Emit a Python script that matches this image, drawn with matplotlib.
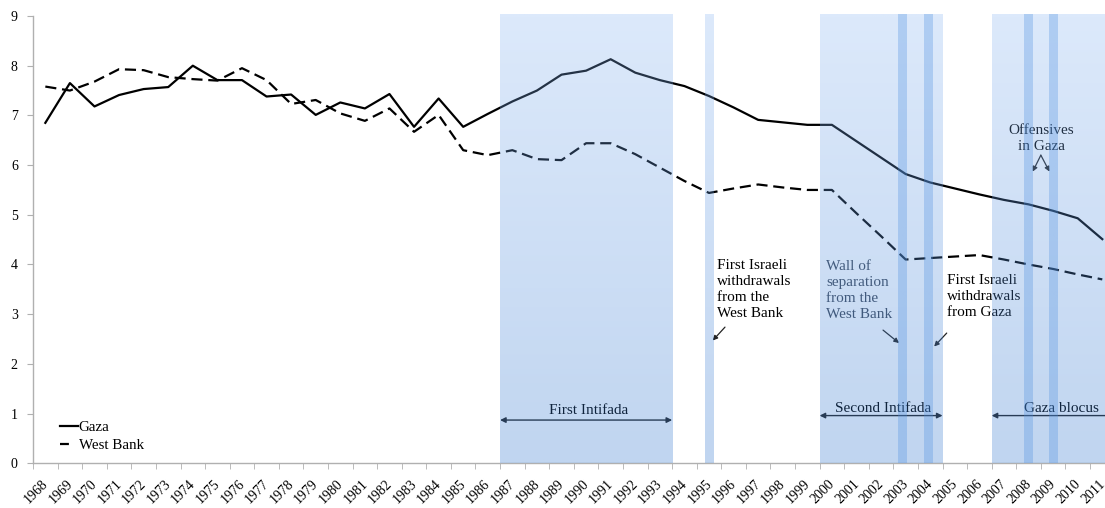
import numpy as np
import matplotlib.pyplot as plt
from matplotlib.lines import Line2D
from matplotlib.transforms import ScaledTranslation

# values
years = list(range(1968, 2012))
gaza = [6.85, 7.65, 7.18, 7.41, 7.53, 7.57, 8.00, 7.71, 7.71, 7.38,
        7.42, 7.01, 7.26, 7.14, 7.43, 6.77, 7.34, 6.77, 7.03, 7.28,
        7.50, 7.82, 7.90, 8.13, 7.86, 7.71, 7.59, 7.39, 7.16, 6.91,
        6.86, 6.81, 6.81, 6.48, 6.15, 5.82, 5.65, 5.53, 5.41, 5.30,
        5.21, 5.08, 4.93, 4.51]
west_bank = [7.58, 7.50, 7.68, 7.93, 7.91, 7.77, 7.73, 7.70, 7.95, 7.71,
             7.23, 7.31, 7.04, 6.89, 7.14, 6.67, 7.01, 6.30, 6.20, 6.30,
             6.12, 6.10, 6.44, 6.44, 6.22, 5.95, 5.68, 5.44, 5.53, 5.61,
             5.55, 5.50, 5.50, 5.03, 4.57, 4.10, 4.13, 4.16, 4.19, 4.10,
             4.00, 3.91, 3.80, 3.70]

periods = ["First Intifada", "Second Intifada", "Gaza blocus"]
period_start = [1987, 2000, 2007]
period_end = [1993, 2004, 2011]
light_marks = [1995]
dark_marks = [2003, 2004, 2008, 2009]

plt.rcParams['font.family'] = ['Liberation Serif', 'DejaVu Serif']

fig = plt.figure(figsize=(11.05, 5.08), dpi=100)
ax = fig.add_axes([0.0299, 0.088, 0.9701, 0.8854])

YTOP = 9.05
x = np.arange(len(years))


def idx(y):
    return years.index(y)


def shade(x0, x1, top, bot, alpha, z):
    t = np.linspace(0, 1, 64)[:, None]
    rgb = np.array(top) / 255 * (1 - t) + np.array(bot) / 255 * t
    img = np.hstack([rgb, np.full((64, 1), alpha)]).reshape(64, 1, 4)
    ax.imshow(img, extent=(x0, x1, 0, YTOP), origin='upper', aspect='auto',
              zorder=z, interpolation='bilinear')


ax.plot(x, gaza, color='black', lw=1.6, zorder=2, label='Gaza')
ax.plot(x, west_bank, color='black', lw=1.6, ls=(0, (5, 2.6)), zorder=2,
        label='West Bank')

# shaded periods, drawn over the lines
for s, e in zip(period_start, period_end):
    shade(idx(s) - 0.5, idx(e) + 0.5, (138, 182, 242), (45, 115, 205), 0.3, 3)
for y in light_marks:
    shade(idx(y) - 0.17, idx(y) + 0.19, (138, 182, 242), (45, 115, 205), 0.3, 3)
for y, off in zip(dark_marks, [-0.12, -0.07, -0.01, 0.0]):
    c = idx(y) + off
    shade(c - 0.18, c + 0.18, (80, 145, 225), (80, 145, 225), 0.32, 3.1)

# period labels with arrows
fs = 11
arr = dict(arrowstyle='<|-|>', color='#222222', lw=1.0,
           mutation_scale=8, shrinkA=0, shrinkB=0)
ax.annotate('', xy=(idx(1987) - 0.5, 0.87), xytext=(idx(1993) + 0.5, 0.87),
            arrowprops=arr, zorder=2.5)
ax.text(22.1, 1.06, periods[0], ha='center', va='center', fontsize=fs, zorder=2.5)
ax.annotate('', xy=(idx(2000) - 0.5, 0.96), xytext=(idx(2004) + 0.5, 0.96),
            arrowprops=arr, zorder=2.5)
ax.text(34.1, 1.11, periods[1], ha='center', va='center', fontsize=fs, zorder=2.5)
ax.annotate('', xy=(idx(2007) - 0.5, 0.96), xytext=(43.6, 0.96),
            arrowprops=dict(arrowstyle='-|>', color='#222222', lw=1.0,
                            mutation_scale=8, shrinkA=0, shrinkB=0),
            zorder=2.5, annotation_clip=False)
ax.text(41.34, 1.11, periods[2], ha='center', va='center', fontsize=fs, zorder=2.5)

small = dict(arrowstyle='-|>', color='#222222', lw=0.9, mutation_scale=7,
             shrinkA=0, shrinkB=0)
ls_txt = 1.3
ax.text(27.31, 4.12, 'First Israeli\nwithdrawals\nfrom the\nWest Bank', ha='left',
        va='top', fontsize=fs, linespacing=ls_txt, zorder=2.5)
ax.annotate('', xy=(27.15, 2.47), xytext=(27.65, 2.74), arrowprops=small, zorder=2.5)

ax.text(31.76, 4.10, 'Wall of\nseparation\nfrom the\nWest Bank', ha='left',
        va='top', fontsize=fs, linespacing=ls_txt, color='#3c4656', zorder=2.5)
ax.annotate('', xy=(34.73, 2.42), xytext=(34.08, 2.68), arrowprops=small, zorder=2.5)

ax.text(36.67, 3.80, 'First Israeli\nwithdrawals\nfrom Gaza', ha='left',
        va='top', fontsize=fs, linespacing=ls_txt, zorder=2.5)
ax.annotate('', xy=(36.16, 2.35), xytext=(36.67, 2.62), arrowprops=small, zorder=2.5)

ax.text(40.51, 6.82, 'Offensives\nin Gaza', ha='center', va='top', fontsize=fs,
        linespacing=ls_txt, zorder=2.5)
ax.annotate('', xy=(40.17, 5.87), xytext=(40.5, 6.2), arrowprops=small, zorder=2.5)
ax.annotate('', xy=(40.85, 5.87), xytext=(40.5, 6.2), arrowprops=small, zorder=2.5)

# axes styling
ax.spines['top'].set_visible(False)
ax.spines['right'].set_visible(False)
for sp in ('left', 'bottom'):
    ax.spines[sp].set_color('#b0b0b0')
    ax.spines[sp].set_linewidth(1.0)
ax.spines['left'].set_bounds(0, 9)

ax.set_yticks(range(10))
ax.tick_params(axis='y', length=4, color='#b0b0b0', pad=7, labelsize=10)
ax.set_xticks(x)
ax.set_xticklabels(years, rotation=45, ha='right', va='top',
                   rotation_mode='anchor', fontsize=10)
ax.tick_params(axis='x', which='major', length=0, pad=10)
shift = ScaledTranslation(-4 / 100, 0, fig.dpi_scale_trans)
for lab in ax.get_xticklabels():
    lab.set_transform(lab.get_transform() + shift)
ax.set_xticks(np.arange(-0.5, 43.6, 1), minor=True)
ax.tick_params(axis='x', which='minor', length=4, color='#b0b0b0')
ax.set_xlim(-0.5, 43.11)
ax.set_ylim(0, YTOP)

handles = [Line2D([], [], color='black', lw=1.6),
           Line2D([], [], color='black', lw=1.6, ls=(0, (4, 10)))]
ax.legend(handles, ['Gaza', 'West Bank'], loc='lower left',
          bbox_to_anchor=(0.025, 0.025), frameon=False, fontsize=10.8,
          handlelength=1.2, handletextpad=0.05, labelspacing=0.3,
          borderpad=0, borderaxespad=0)

fig.savefig('out.png', dpi=100)
